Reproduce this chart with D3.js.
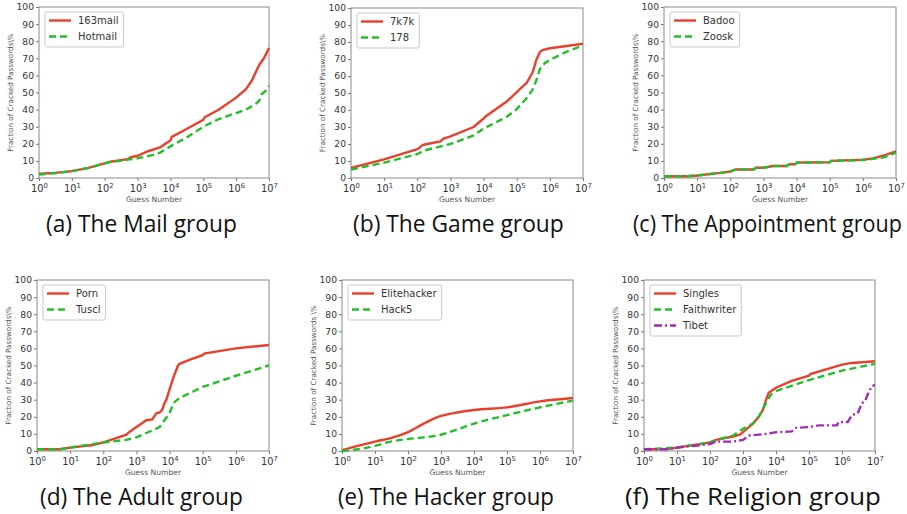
<!DOCTYPE html>
<html>
<head>
<meta charset="utf-8">
<script src="https://cdn.jsdelivr.net/npm/d3@7"></script>
<style>
  body { margin: 0; background: #fff; }
  svg { display: block; }
  .tick text { font-family: "DejaVu Sans", sans-serif; fill: #333; }
  .caption { font-family: "Open Sans", sans-serif; fill: #111; }
</style>
</head>
<body>
<script>
// guess numbers (x) and cracked fraction in % (y)

// (a) mail
const mail163X = [1, 3, 10, 30, 100, 150, 500, 600, 1000, 2000, 5000, 7000, 10000, 11000, 30000, 100000, 110000, 300000, 1000000, 2000000, 3000000, 5000000, 7000000, 10000000];
const mail163Y = [2.5, 3, 4, 5.8, 8.5, 9.5, 11, 12, 13, 15.5, 18, 20, 22, 24, 28.5, 34, 35.5, 40, 47, 52, 57, 66, 70, 76];
const hotmailX = [1, 3, 10, 30, 100, 150, 300, 600, 1000, 3000, 5000, 10000, 30000, 100000, 300000, 1000000, 2000000, 3000000, 4000000, 5000000, 6000000, 8000000, 10000000];
const hotmailY = [2, 2.8, 4, 5.8, 8.5, 9.5, 10, 11, 11.5, 13.5, 15, 18.5, 23.5, 30, 34.5, 38, 40, 42, 43.5, 45, 49, 51, 54];

// (b) game
const k7k7X = [1, 10, 100, 150, 200, 500, 600, 1000, 5000, 10000, 12000, 50000, 100000, 200000, 300000, 400000, 500000, 600000, 1000000, 10000000];
const k7k7Y = [6, 11, 17, 19.5, 20, 21.5, 23, 24.5, 30, 35, 36.5, 45, 50.5, 56, 62, 70, 74, 75.3, 76.3, 79];
const g178X = [1, 10, 100, 150, 300, 1000, 5000, 10000, 50000, 100000, 200000, 300000, 400000, 500000, 700000, 1000000, 3000000, 10000000];
const g178Y = [5, 9, 14, 16, 17.5, 20, 25, 29, 36, 40.5, 47, 52, 58, 64, 67.5, 69.5, 74, 78];

// (c) appointment
const badooX = [1, 5, 10, 50, 100, 150, 500, 600, 1000, 2000, 5000, 6000, 9000, 10000, 100000, 110000, 1000000, 2000000, 4000000, 7000000, 10000000];
const badooY = [1, 1, 1.5, 3, 3.8, 5, 5, 6, 6, 7, 7, 8, 8, 9, 9.2, 10, 10.7, 11.5, 13, 14.5, 15.5];
const zooskX = [1, 5, 10, 50, 100, 150, 500, 600, 1000, 2000, 5000, 6000, 9000, 10000, 100000, 110000, 1000000, 2000000, 4000000, 7000000, 10000000];
const zooskY = [1, 1, 1.5, 3, 3.8, 5, 5, 6, 6, 7, 7, 8, 8, 9, 9.2, 10, 10.5, 11.2, 12, 13.5, 15];

// (d) adult
const pornX = [1, 5, 10, 50, 100, 200, 500, 600, 1000, 2000, 3000, 4000, 5000, 6000, 7000, 8000, 10000, 13000, 18000, 20000, 50000, 100000, 110000, 1000000, 10000000];
const pornY = [1, 1, 2, 3.5, 5, 7, 9.5, 11, 14, 18, 18.5, 22, 22.5, 24, 28, 30, 36, 43, 50, 51, 54, 56, 57, 60, 62];
const tusclX = [1, 5, 10, 100, 500, 1000, 3000, 5000, 7000, 10000, 13000, 20000, 100000, 1000000, 10000000];
const tusclY = [1, 1, 2, 5, 6.5, 8, 12, 14, 18, 22, 28, 31, 37.5, 44, 50];

// (e) hacker
const eliteX = [1, 3, 10, 30, 100, 300, 1000, 3000, 10000, 100000, 1000000, 10000000];
const eliteY = [0.5, 3, 5.5, 7.5, 11, 16, 20.5, 22.5, 24, 25.5, 29, 31];
const hack5X = [1, 3, 10, 30, 100, 300, 1000, 3000, 10000, 100000, 1000000, 10000000];
const hack5Y = [0, 1, 3, 5.5, 7, 8, 9.5, 12.5, 16, 21, 25.5, 29.5];

// (f) religion
const singlesX = [1, 5, 10, 100, 150, 500, 800, 1000, 2000, 3000, 4000, 5000, 6000, 10000, 30000, 100000, 110000, 1000000, 2000000, 10000000];
const singlesY = [1, 1.2, 2, 5, 6.5, 8.5, 9.5, 11, 16, 20, 24, 30, 34, 37, 41, 44, 45, 50.5, 51.5, 52.5];
const faithX = [1, 10, 100, 200, 500, 1000, 2000, 3000, 5000, 7000, 10000, 100000, 1000000, 10000000];
const faithY = [1, 2, 5, 7, 9, 13, 16, 20, 28, 33, 35, 41.5, 47, 51];
const tibetX = [1, 5, 10, 100, 150, 500, 700, 1000, 1500, 5000, 10000, 30000, 40000, 100000, 200000, 700000, 800000, 1500000, 2000000, 3000000, 4000000, 5000000, 6000000, 8000000, 10000000];
const tibetY = [1, 1, 2, 4, 5.5, 5.5, 6, 6.5, 9, 10, 11, 11.5, 13.5, 14, 15, 15, 17, 17, 21, 22, 28, 29, 33, 38, 38.5];

const xTicks = [1e0, 1e1, 1e2, 1e3, 1e4, 1e5, 1e6, 1e7];
const yTicks = [0, 10, 20, 30, 40, 50, 60, 70, 80, 90, 100];

const RED = "#e8402c", GREEN = "#23bf2b", PURPLE = "#a22ab6";

function zip(xs, ys) { return xs.map((x, i) => ({x: x, y: ys[i]})); }

const panels = [
  {box: [39, 7, 269, 178], caption: "(a) The Mail group", cap: [46, 237, 232],
   ylabel: "Fraction of Cracked Passwords\\%",
   series: [{name: "163mail", data: zip(mail163X, mail163Y), color: RED},
            {name: "Hotmail", data: zip(hotmailX, hotmailY), color: GREEN, dash: "7,4"}]},
  {box: [351, 8, 583, 178], caption: "(b) The Game group", cap: [353, 564, 232],
   ylabel: "Fraction of Cracked Passwords\\%",
   series: [{name: "7k7k", data: zip(k7k7X, k7k7Y), color: RED},
            {name: "178", data: zip(g178X, g178Y), color: GREEN, dash: "7,4"}]},
  {box: [664, 7, 896, 178], caption: "(c) The Appointment group", cap: [633, 902, 232],
   ylabel: "Fraction of Cracked Passwords\\%",
   series: [{name: "Badoo", data: zip(badooX, badooY), color: RED},
            {name: "Zoosk", data: zip(zooskX, zooskY), color: GREEN, dash: "7,4"}]},
  {box: [37, 280, 269, 451], caption: "(d) The Adult group", cap: [40, 243, 505],
   ylabel: "Fraction of Cracked Passwords\\%",
   series: [{name: "Porn", data: zip(pornX, pornY), color: RED},
            {name: "Tuscl", data: zip(tusclX, tusclY), color: GREEN, dash: "7,4"}]},
  {box: [342, 280, 573, 451], caption: "(e) The Hacker group", cap: [338, 554, 505],
   ylabel: "Fraction of Cracked Passwords \\%", smooth: true,
   series: [{name: "Elitehacker", data: zip(eliteX, eliteY), color: RED},
            {name: "Hack5", data: zip(hack5X, hack5Y), color: GREEN, dash: "7,4"}]},
  {box: [644, 280, 875, 451], caption: "(f) The Religion group", cap: [625, 881, 505],
   ylabel: "Fraction of Cracked Passwords\\%",
   series: [{name: "Singles", data: zip(singlesX, singlesY), color: RED},
            {name: "Faithwriter", data: zip(faithX, faithY), color: GREEN, dash: "7,4"},
            {name: "Tibet", data: zip(tibetX, tibetY), color: PURPLE, dash: "8,3,2,3"}]}
];

const svg = d3.select("body").append("svg")
    .attr("width", 907)
    .attr("height", 514);

panels.forEach(function (p) {
    const [x0, y0, x1, y1] = p.box;
    const w = x1 - x0, h = y1 - y0;
    const x = d3.scaleLog().domain([1, 1e7]).range([0, w]);
    const y = d3.scaleLinear().domain([0, 100]).range([h, 0]);

    const g = svg.append("g").attr("transform", "translate(" + x0 + "," + y0 + ")");

    // axes
    const xa = g.append("g")
        .attr("transform", "translate(0," + h + ")")
        .call(d3.axisBottom(x).tickValues(xTicks).tickSize(3).tickPadding(2).tickFormat(""));
    xa.selectAll(".tick text")
        .attr("font-size", 9.8)
        .attr("dy", "0.95em")
        .each(function (d) {
            const t = d3.select(this);
            t.append("tspan").text("10");
            t.append("tspan").attr("dy", -4).attr("font-size", 6.8)
                .text(Math.round(Math.log10(d)));
        });

    const ya = g.append("g")
        .call(d3.axisLeft(y).tickValues(yTicks).tickSize(3).tickPadding(2));
    ya.selectAll(".tick text").attr("font-size", 9.2);

    [xa, ya].forEach(a => {
        a.select(".domain").remove();
        a.selectAll(".tick line").attr("stroke", "#777");
    });

    // frame
    g.append("rect")
        .attr("width", w).attr("height", h)
        .attr("fill", "none").attr("stroke", "#8a8a8a").attr("stroke-width", 1);

    // axis labels
    g.append("text")
        .attr("x", w / 2).attr("y", h + 24)
        .attr("text-anchor", "middle")
        .attr("font-family", "DejaVu Sans, sans-serif")
        .attr("font-size", 7.6).attr("fill", "#555")
        .text("Guess Number");
    g.append("text")
        .attr("transform", "translate(-26," + (h / 2) + ") rotate(-90)")
        .attr("text-anchor", "middle")
        .attr("font-family", "DejaVu Sans, sans-serif")
        .attr("font-size", 7.2).attr("fill", "#555")
        .text(p.ylabel);

    // lines
    const line = d3.line()
        .x(d => x(d.x))
        .y(d => y(d.y))
        .curve(p.smooth ? d3.curveMonotoneX : d3.curveLinear);

    p.series.forEach(function (s) {
        g.append("path")
            .datum(s.data)
            .attr("fill", "none")
            .attr("stroke", s.color)
            .attr("stroke-width", 2.4)
            .attr("stroke-dasharray", s.dash || null)
            .attr("d", line);
    });

    // legend
    const lg = g.append("g").attr("transform", "translate(6,5)");
    const box = lg.append("rect")
        .attr("rx", 2).attr("ry", 2)
        .attr("fill", "#fff").attr("fill-opacity", 0.85)
        .attr("stroke", "#bbb").attr("stroke-width", 0.8);
    let maxW = 0;
    p.series.forEach(function (s, i) {
        const cy = 8.5 + i * 16;
        lg.append("line")
            .attr("x1", 4).attr("x2", 26)
            .attr("y1", cy).attr("y2", cy)
            .attr("stroke", s.color).attr("stroke-width", 2.4)
            .attr("stroke-dasharray", s.dash || null);
        const t = lg.append("text")
            .attr("x", 33).attr("y", cy)
            .attr("dy", "0.35em")
            .attr("font-family", "DejaVu Sans, sans-serif")
            .attr("font-size", 10).attr("fill", "#333")
            .text(s.name);
        maxW = Math.max(maxW, t.node().getComputedTextLength());
    });
    box.attr("width", 33 + maxW + 5).attr("height", p.series.length * 16 + 3);

    // caption, squeezed horizontally to the narrow face of the original
    const [cx0, cx1, cy] = p.cap;
    const cap = svg.append("text")
        .attr("class", "caption")
        .attr("font-size", 23)
        .text(p.caption);
    const sx = (cx1 - cx0) / cap.node().getComputedTextLength();
    cap.attr("transform", "translate(" + cx0 + "," + cy + ") scale(" + sx + ",1)");
});
</script>
</body>
</html>
